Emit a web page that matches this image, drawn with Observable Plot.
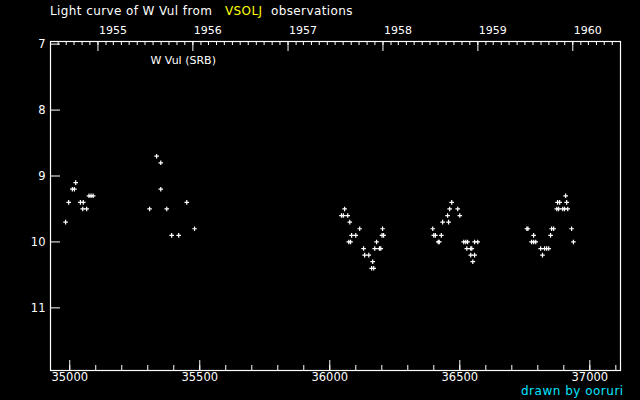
<!DOCTYPE html>
<html>
<head>
<meta charset="utf-8">
<script src="https://cdn.jsdelivr.net/npm/d3@7"></script>
<script src="https://cdn.jsdelivr.net/npm/@observablehq/plot@0.6"></script>
<style>
  html, body { margin: 0; padding: 0; background: #000; }
  #wrap { position: relative; width: 640px; height: 400px; background: #000; font-family: "DejaVu Sans", sans-serif; }
  .lbl { position: absolute; white-space: pre; line-height: 1; }
</style>
</head>
<body>
<div id="wrap">
  <div id="chart"></div>
  <div class="lbl" style="left:50px; top:5px; color:#fff; font-size:12px; letter-spacing:0.4px;">Light curve of W Vul from   <span style="color:#ffff00">VSOLJ</span>  observations</div>
  <div class="lbl" style="left:521px; top:385px; color:#00e5ff; font-size:12px; letter-spacing:0.5px;">drawn by ooruri</div>
</div>
<script>
// Julian Date - 2400000
const jd = [
  34984, 34996, 35010, 35018, 35023, 35041, 35052, 35050, 35065, 35074, 35082, 35090,
  35307, 35334, 35350, 35350, 35373, 35392, 35419, 35450, 35480,
  36045, 36052, 36057, 36069, 36077, 36084, 36100, 36073, 36080, 36115, 36130, 36134,
  36150, 36161, 36169, 36165, 36173, 36180, 36191, 36196, 36201, 36207, 36203,
  36396, 36400, 36406, 36429, 36417, 36421, 36434, 36457, 36453, 36461, 36469, 36492,
  36500, 36515, 36523, 36530, 36527, 36542, 36546, 36542, 36557, 36550, 36557, 36569,
  36758, 36762, 36784, 36776, 36784, 36792, 36811, 36818, 36826, 36834, 36842, 36849,
  36853, 36861, 36873, 36880, 36876, 36884, 36896, 36903, 36907, 36911, 36915, 36930, 36937
];
const mag = [
  9.7, 9.4, 9.2, 9.2, 9.1, 9.4, 9.4, 9.5, 9.5, 9.3, 9.3, 9.3,
  9.5, 8.7, 8.8, 9.2, 9.5, 9.9, 9.9, 9.4, 9.8,
  9.6, 9.6, 9.5, 9.6, 9.7, 9.9, 9.9, 10.0, 10.0, 9.8, 10.1, 10.2,
  10.2, 10.4, 10.4, 10.3, 10.1, 10.0, 10.1, 10.1, 9.9, 9.9, 9.8,
  9.8, 9.9, 9.9, 9.9, 10.0, 10.0, 9.7, 9.7, 9.6, 9.5, 9.4, 9.5,
  9.6, 10.0, 10.0, 10.0, 10.1, 10.1, 10.1, 10.2, 10.2, 10.3, 10.0, 10.0,
  9.8, 9.8, 9.9, 10.0, 10.0, 10.0, 10.1, 10.2, 10.1, 10.1, 10.1, 9.9,
  9.8, 9.8, 9.5, 9.5, 9.4, 9.4, 9.5, 9.5, 9.3, 9.4, 9.5, 9.8, 10.0
];
const xTicks = [35000, 35500, 36000, 36500, 37000];
const yTicks = [7, 8, 9, 10, 11];
const yearLabels = ["1955", "1956", "1957", "1958", "1959", "1960"];
const xDomain = [34926, 37118];
const yDomain = [6.96, 11.95];

const toJD = d => d.getTime() / 864e5 + 40587.5;
const yearJD = yearLabels.map(y => toJD(new Date(Date.UTC(+y, 0, 1))));
const inDom = v => v >= xDomain[0] && v <= xDomain[1];
const monthJD = d3.utcMonth.range(new Date(Date.UTC(1954, 6, 1)), new Date(Date.UTC(1960, 6, 1))).map(toJD).filter(inDom);
const minorX = d3.range(34900, 37200, 100).filter(inDom);

const pts = jd.map((x, i) => ({x, y: mag[i]}));

const W = 640, H = 400, mL = 50, mR = 20, mT = 41, mB = 30;
const pw = W - mL - mR, ph = H - mT - mB;
const font = {fill: "white", fontSize: 11, fontFamily: "DejaVu Sans, sans-serif"};

const chart = Plot.plot({
  width: W, height: H,
  marginLeft: mL, marginRight: mR, marginTop: mT, marginBottom: mB,
  style: {background: "black", color: "white", overflow: "visible"},
  x: {domain: xDomain, axis: null},
  y: {domain: yDomain, reverse: true, axis: null},
  marks: [
    Plot.frame({stroke: "white", strokeWidth: 1.2}),
    // bottom ticks
    Plot.tickX(minorX, {x: d => d, stroke: "white", insetTop: ph - 5}),
    Plot.tickX(xTicks, {x: d => d, stroke: "white", insetTop: ph - 10}),
    // top ticks (months, years)
    Plot.tickX(monthJD, {x: d => d, stroke: "white", insetBottom: ph - 4}),
    Plot.tickX(yearJD, {x: d => d, stroke: "white", insetBottom: ph - 10}),
    // left ticks
    Plot.tickY(yTicks, {y: d => d, stroke: "white", insetRight: pw - 10}),
    // labels
    Plot.text(xTicks, {x: d => d, text: d => String(d), frameAnchor: "bottom", lineAnchor: "top", dy: 2, ...font, fontSize: 11.5, letterSpacing: "0.8px"}),
    Plot.text(yearJD, {x: d => d, text: (d, i) => yearLabels[i], frameAnchor: "top", lineAnchor: "bottom", textAnchor: "start", dx: 1, dy: -8, ...font, letterSpacing: "0.6px"}),
    Plot.text(yTicks, {y: d => d, text: d => String(d), frameAnchor: "left", textAnchor: "end", dx: -5, ...font, fontSize: 11.5}),
    Plot.text(["W Vul (SRB)"], {frameAnchor: "top-left", text: d => d, dx: 100, dy: 15, lineAnchor: "top", ...font}),
    // observations
    Plot.dot(pts, {x: "x", y: "y", symbol: "plus", r: 1.6, fill: "none", stroke: "white", strokeWidth: 1.2})
  ]
});
document.getElementById("chart").appendChild(chart);
</script>
</body>
</html>
